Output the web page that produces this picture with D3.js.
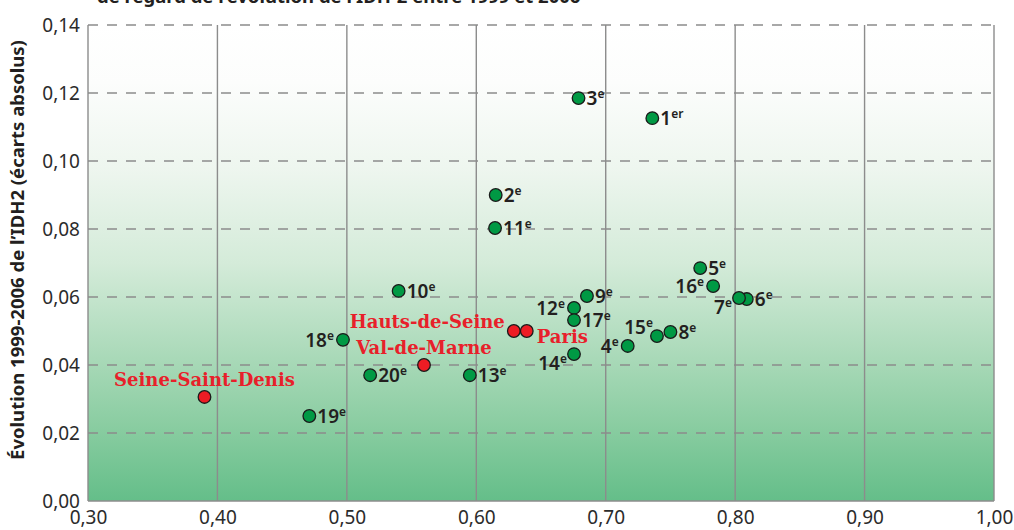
<!DOCTYPE html>
<html>
<head>
<meta charset="utf-8">
<script src="https://cdn.jsdelivr.net/npm/d3@7"></script>
<style>
  body { margin: 0; background: #fff; }
  svg { display: block; }
</style>
</head>
<body>
<div id="wrapper"></div>
<script>
// data
const names = ["1", "2", "3", "4", "5", "6", "7", "8", "9", "10",
  "11", "12", "13", "14", "15", "16", "17", "18", "19", "20",
  "Paris", "Hauts-de-Seine", "Val-de-Marne", "Seine-Saint-Denis"];
const suffixes = ["er", "e", "e", "e", "e", "e", "e", "e", "e", "e",
  "e", "e", "e", "e", "e", "e", "e", "e", "e", "e", "", "", "", ""];
const idh2 = [0.736, 0.615, 0.679, 0.717, 0.773, 0.809, 0.803, 0.750, 0.6855, 0.540,
  0.6145, 0.6755, 0.595, 0.6755, 0.7396, 0.783, 0.6755, 0.497, 0.471, 0.518,
  0.639, 0.629, 0.5596, 0.390];
const evolution = [0.1126, 0.090, 0.1185, 0.0456, 0.0685, 0.0594, 0.0597, 0.0497, 0.0603, 0.0618,
  0.0803, 0.0568, 0.037, 0.0432, 0.0485, 0.0632, 0.0532, 0.0474, 0.025, 0.037,
  0.050, 0.050, 0.040, 0.0306];
const kinds = ["arr", "arr", "arr", "arr", "arr", "arr", "arr", "arr", "arr", "arr",
  "arr", "arr", "arr", "arr", "arr", "arr", "arr", "arr", "arr", "arr",
  "dep", "dep", "dep", "dep"];
// where the label sits relative to its point
const labelSide = ["r", "r", "r", "l", "r", "r", "bl", "r", "r", "r",
  "r", "l", "r", "bl", "al", "l", "r", "l", "r", "r",
  "br", "al", "a", "a"];
const xTicks = [0.30, 0.40, 0.50, 0.60, 0.70, 0.80, 0.90, 1.00];
const yTicks = [0.00, 0.02, 0.04, 0.06, 0.08, 0.10, 0.12, 0.14];
const yTitle = "Évolution 1999-2006 de l’IDH2 (écarts absolus)";
const topTitle = "de regard de l’évolution de l’IDH-2 entre 1999 et 2006";

const dataset = names.map((n, i) => ({
  name: n, sup: suffixes[i], x: idh2[i], y: evolution[i], kind: kinds[i], side: labelSide[i]
}));

const dimensions = {
  width: 1014,
  height: 530,
  margin: { top: 25, right: 20, bottom: 29, left: 88 },
};
dimensions.boundedWidth = dimensions.width - dimensions.margin.left - dimensions.margin.right;
dimensions.boundedHeight = dimensions.height - dimensions.margin.top - dimensions.margin.bottom;

const wrapper = d3.select("#wrapper").append("svg")
  .attr("width", dimensions.width)
  .attr("height", dimensions.height);

const bounds = wrapper.append("g")
  .attr("transform", `translate(${dimensions.margin.left},${dimensions.margin.top})`);

const xScale = d3.scaleLinear().domain([0.3, 1.0]).range([0, dimensions.boundedWidth]);
const yScale = d3.scaleLinear().domain([0, 0.14]).range([dimensions.boundedHeight, 0]);
const fr = (d) => d3.format(".2f")(d).replace(".", ",");

// background gradient
const grad = wrapper.append("defs").append("linearGradient")
  .attr("id", "bg").attr("x1", 0).attr("y1", 0).attr("x2", 0).attr("y2", 1);
[[0, "#ffffff"], [0.12, "#fcfdfc"], [0.3, "#eef6ef"], [0.5, "#d4ebd9"],
 [0.7, "#a9d9b8"], [0.85, "#88cca0"], [1, "#64be89"]].forEach(([o, c]) =>
  grad.append("stop").attr("offset", o).attr("stop-color", c));

bounds.append("rect")
  .attr("width", dimensions.boundedWidth)
  .attr("height", dimensions.boundedHeight)
  .attr("fill", "url(#bg)");

// horizontal dashed grid
bounds.append("g")
  .selectAll("line")
  .data(yTicks.filter((d) => d > 0))
  .join("line")
  .attr("x1", 0).attr("x2", dimensions.boundedWidth)
  .attr("y1", (d) => yScale(d)).attr("y2", (d) => yScale(d))
  .attr("stroke", "#8c8c8c").attr("stroke-width", 1.3)
  .attr("stroke-dasharray", "10,9");

// vertical solid grid + frame
bounds.append("g")
  .selectAll("line")
  .data(xTicks)
  .join("line")
  .attr("x1", (d) => xScale(d)).attr("x2", (d) => xScale(d))
  .attr("y1", 0).attr("y2", dimensions.boundedHeight)
  .attr("stroke", "#8c8c8c").attr("stroke-width", 1.4);

bounds.append("line")
  .attr("x1", 0).attr("x2", dimensions.boundedWidth)
  .attr("y1", dimensions.boundedHeight).attr("y2", dimensions.boundedHeight)
  .attr("stroke", "#8c8c8c").attr("stroke-width", 1.4);

// axes (labels only)
const xAxis = bounds.append("g")
  .attr("transform", `translate(0,${dimensions.boundedHeight})`)
  .call(d3.axisBottom(xScale).tickValues(xTicks).tickFormat(fr).tickSize(0).tickPadding(10));
const yAxis = bounds.append("g")
  .call(d3.axisLeft(yScale).tickValues(yTicks).tickFormat(fr).tickSize(0).tickPadding(8));
[xAxis, yAxis].forEach((a) => {
  a.select(".domain").remove();
  a.selectAll("text")
    .attr("font-family", "'Noto Sans', sans-serif")
    .attr("font-size", 19)
    .attr("fill", "#2b2b2b");
});

// y title
wrapper.append("text")
  .attr("transform", `translate(24,250) rotate(-90)`)
  .attr("text-anchor", "middle")
  .attr("font-family", "'Noto Sans', sans-serif")
  .attr("font-weight", "bold")
  .attr("font-size", 18.5)
  .attr("fill", "#231f20")
  .text(yTitle);

// title, cut off at the top like in the source
wrapper.append("text")
  .attr("x", 97).attr("y", 3)
  .attr("font-family", "'Noto Sans', sans-serif")
  .attr("font-weight", "bold")
  .attr("font-size", 18.5)
  .attr("fill", "#231f20")
  .text(topTitle);

// points
bounds.append("g")
  .selectAll("circle")
  .data(dataset)
  .join("circle")
  .attr("cx", (d) => xScale(d.x))
  .attr("cy", (d) => yScale(d.y))
  .attr("r", 6.3)
  .attr("fill", (d) => (d.kind === "arr" ? "#009944" : "#ed1c24"))
  .attr("stroke", "#1a1a1a")
  .attr("stroke-width", 1.3);

// labels
const offsets = {
  r: { dx: 8, dy: 7, anchor: "start" },
  l: { dx: -9, dy: 7, anchor: "end" },
  bl: { dx: -7, dy: 16, anchor: "end" },
  al: { dx: -9, dy: -3, anchor: "end" },
  alArr: { dx: -4, dy: -2, anchor: "end" },
  br: { dx: 10, dy: 12, anchor: "start" },
  a: { dx: 0, dy: -11, anchor: "middle" },
};

bounds.append("g")
  .selectAll("text")
  .data(dataset)
  .join("text")
  .each(function (d) {
    const o = d.kind === "arr" && d.side === "al" ? offsets.alArr : offsets[d.side];
    const t = d3.select(this)
      .attr("x", xScale(d.x) + o.dx)
      .attr("y", yScale(d.y) + o.dy)
      .attr("text-anchor", o.anchor);
    if (d.kind === "arr") {
      t.attr("font-family", "'Noto Sans', sans-serif")
        .attr("font-weight", 600)
        .attr("font-size", 19)
        .attr("fill", "#231f20");
      t.append("tspan").text(d.name);
      t.append("tspan").attr("font-size", 12).attr("dy", -7).text(d.sup);
    } else {
      t.attr("font-family", "'DejaVu Serif', serif")
        .attr("font-weight", "bold")
        .attr("font-size", 18)
        .attr("fill", "#e8202a")
        .text(d.name);
    }
  });
</script>
</body>
</html>
